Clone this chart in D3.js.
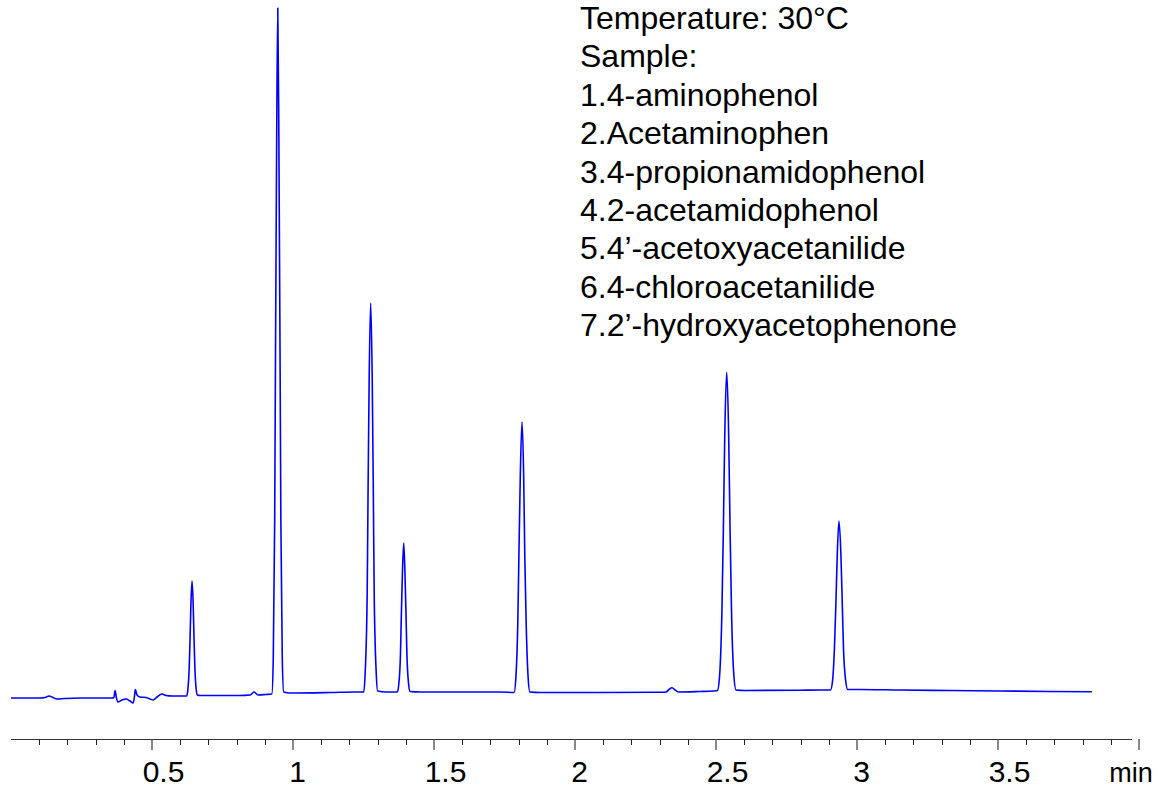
<!DOCTYPE html>
<html>
<head>
<meta charset="utf-8">
<script src="https://cdn.jsdelivr.net/npm/d3@7"></script>
<style>
  body { margin: 0; background: #fff; }
  svg { display: block; font-family: "Liberation Sans", Arial, sans-serif; }
</style>
</head>
<body>
<div id="chart"></div>
<script>
// chromatogram trace, [time (min), signal (mAU)]
const trace = [
  // start / injection disturbance
  [0.000, 0], [0.103, 0], [0.121, 0.5], [0.135, 2], [0.149, 0.5], [0.163, -1], [0.191, -0.5],
  [0.245, 0], [0.316, 0], [0.358, 0], [0.365, 0.5], [0.369, 7.5], [0.374, 0], [0.379, -4],
  [0.394, -2], [0.408, -1], [0.422, -3], [0.433, -5], [0.438, 2], [0.441, 8.5], [0.447, 3],
  [0.457, 1], [0.479, 0.5], [0.493, -1], [0.504, -2], [0.518, 1], [0.535, 4], [0.550, 2.5],
  [0.571, 2], [0.617, 2],
  // peak 1
  [0.623, 2], [0.627, 7.8], [0.632, 30.8], [0.635, 59.5], [0.638, 94], [0.642, 117],
  [0.646, 94], [0.649, 59.5], [0.652, 30.8], [0.657, 8], [0.661, 3],
  [0.670, 2.5], [0.812, 2.5], [0.848, 3], [0.862, 6], [0.876, 3], [0.904, 3.5],
  // peak 2
  [0.925, 4], [0.930, 38.3], [0.935, 175.5], [0.938, 347], [0.942, 553], [0.946, 690],
  [0.950, 553], [0.954, 347], [0.957, 175.5], [0.962, 39], [0.967, 6],
  [0.989, 5], [1.131, 5.5], [1.220, 6],
  // peak 3
  [1.251, 6], [1.256, 25.5], [1.263, 103], [1.266, 200.5], [1.270, 317], [1.2755, 395],
  [1.281, 317], [1.285, 200.5], [1.288, 103], [1.295, 26], [1.300, 7],
  [1.330, 6],
  // peak 4
  [1.370, 6], [1.375, 13.5], [1.381, 43], [1.384, 80.5], [1.388, 125], [1.3926, 155],
  [1.397, 125], [1.401, 80.5], [1.404, 43], [1.410, 14], [1.415, 6.5],
  [1.450, 6], [1.734, 6],
  // peak 5
  [1.784, 5.5], [1.790, 19], [1.797, 73], [1.801, 141], [1.806, 222], [1.812, 276],
  [1.818, 222], [1.822, 141], [1.827, 73], [1.834, 19.5], [1.840, 6],
  [1.876, 5.5], [2.089, 5.5], [2.301, 5.7], [2.323, 6], [2.333, 8.5], [2.344, 10.3],
  [2.355, 8], [2.369, 6], [2.443, 6.5], [2.493, 7],
  // peak 6
  [2.505, 7.5], [2.513, 23.4], [2.521, 87], [2.526, 166.5], [2.531, 262], [2.538, 325.7],
  [2.545, 262], [2.550, 166.5], [2.555, 87], [2.563, 24], [2.571, 8],
  [2.603, 7.5], [2.798, 7.8], [2.869, 8],
  // peak 7
  [2.906, 8], [2.913, 16.5], [2.920, 50], [2.925, 92.5], [2.930, 143], [2.936, 177],
  [2.943, 143], [2.948, 92.5], [2.952, 50], [2.960, 17], [2.967, 8.5],
  [3.011, 8.5], [3.152, 8], [3.330, 7.5], [3.507, 7], [3.684, 6.5], [3.833, 6.3]
]

const majorTicks = [0.5, 1, 1.5, 2, 2.5, 3, 3.5, 4]
const tickLabels = ["0.5", "1", "1.5", "2", "2.5", "3", "3.5", ""]
const minorTicks = d3.range(1, 40).map(i => i / 10).filter(t => Math.round(t * 10) % 5 !== 0)
const infoLines = [
  "Temperature: 30°C",
  "Sample:",
  "1.4-aminophenol",
  "2.Acetaminophen",
  "3.4-propionamidophenol",
  "4.2-acetamidophenol",
  "5.4’-acetoxyacetanilide",
  "6.4-chloroacetanilide",
  "7.2’-hydroxyacetophenone"
]

const W = 1156, H = 788
const axisY = 739

const svg = d3.select("#chart").append("svg")
  .attr("width", W).attr("height", H)

const x = d3.scaleLinear().domain([0, 4]).range([11, 1139])
const y = d3.scaleLinear().domain([0, 690]).range([698, 8])

// axis line (stops a bit short of the 4 min tick, like the original)
svg.append("line")
  .attr("x1", x(0)).attr("x2", x(3.975))
  .attr("y1", axisY + 0.5).attr("y2", axisY + 0.5)
  .attr("stroke", "#333").attr("stroke-width", 1)

svg.selectAll(".minor")
  .data(minorTicks).join("line")
  .attr("class", "minor")
  .attr("x1", d => Math.round(x(d)) + 0.5).attr("x2", d => Math.round(x(d)) + 0.5)
  .attr("y1", axisY).attr("y2", axisY + 6)
  .attr("stroke", "#222").attr("stroke-width", 1)

svg.selectAll(".major")
  .data(majorTicks).join("line")
  .attr("class", "major")
  .attr("x1", d => x(d)).attr("x2", d => x(d))
  .attr("y1", axisY).attr("y2", axisY + 11)
  .attr("stroke", "#555").attr("stroke-width", 1.4)

// labels sit a little right of their ticks in the original (more so for "x.5")
svg.selectAll(".tlabel")
  .data(majorTicks).join("text")
  .attr("class", "tlabel")
  .attr("x", (d, i) => x(d) + (tickLabels[i].includes(".") ? 11.5 : 4.5))
  .attr("y", 782)
  .attr("text-anchor", "middle")
  .style("font-size", "30px").style("fill", "#000")
  .text((d, i) => tickLabels[i])

svg.append("text")
  .attr("x", 1131).attr("y", 782)
  .attr("text-anchor", "middle")
  .style("font-size", "27px").style("fill", "#000")
  .text("min")

// the trace
const line = d3.line()
  .x(d => x(d[0]))
  .y(d => y(d[1]))
  .curve(d3.curveMonotoneX)

svg.append("path")
  .datum(trace)
  .attr("d", line)
  .attr("fill", "none")
  .attr("stroke", "#0000ff")
  .attr("stroke-width", 1.6)
  .attr("stroke-linejoin", "round")

// conditions text, top right
svg.append("g").selectAll("text")
  .data(infoLines).join("text")
  .attr("x", 580).attr("y", (d, i) => 29 + i * 38.4)
  .style("font-size", "32px").style("fill", "#000")
  .text(d => d)
</script>
</body>
</html>
